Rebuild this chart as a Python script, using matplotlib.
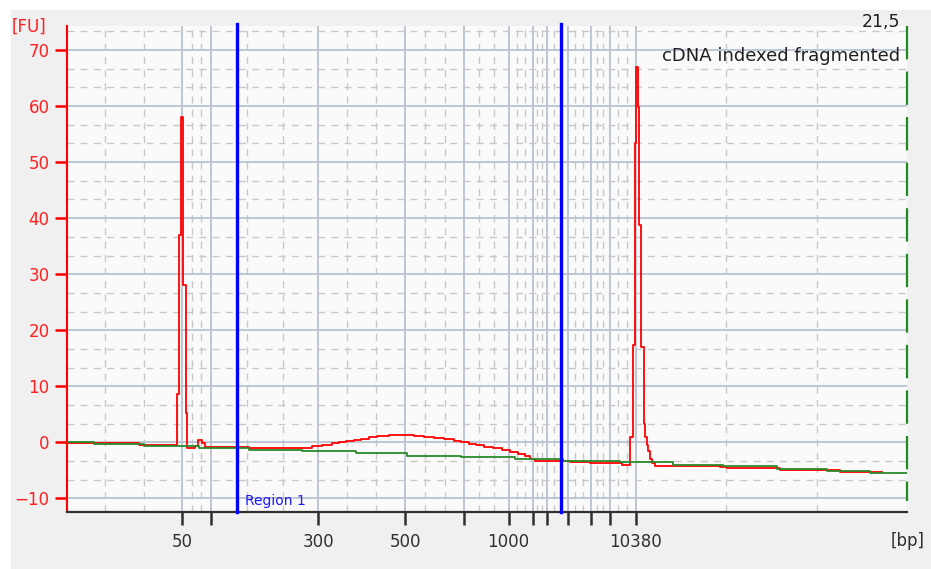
import numpy as np
import matplotlib
matplotlib.use("Agg")
import matplotlib.pyplot as plt
from matplotlib.patches import Rectangle

# migration time [s] and fluorescence [FU] of the sample trace
red_t = [40.0, 44.2, 47.2, 51.0, 51.2, 51.4, 51.6, 51.9, 52.0, 52.8, 53.1, 53.5,
         53.8, 56.2, 58.2, 63.2, 64.5, 65.5, 66.5, 67.2, 67.9, 68.7, 69.4, 70.2,
         71.0, 72.2, 73.7, 74.7, 75.7, 76.7, 77.7, 78.7, 79.4, 80.2, 80.9, 81.7,
         82.5, 83.4, 84.2, 85.0, 85.7, 86.2, 86.7, 88.7, 90.2, 92.2, 95.4, 96.25,
         96.53, 96.7, 96.87, 97.03, 97.13, 97.37, 97.6, 97.75, 97.9, 98.05, 98.2,
         98.4, 98.7, 102.2, 105.2, 105.9, 111.2, 117.2, 121.4]
red_fu = [-0.1, -0.2, -0.5, 8.7, 37.0, 58.0, 28.0, 5.2, -1.0, -0.6, 0.4, -0.1,
          -0.8, -0.9, -1.1, -1.0, -0.65, -0.4, -0.2, 0.0, 0.2, 0.4, 0.6, 0.9,
          1.1, 1.25, 1.3, 1.1, 1.0, 0.8, 0.6, 0.3, 0.0, -0.3, -0.5, -0.8,
          -1.1, -1.4, -1.7, -2.1, -2.5, -3.0, -3.3, -3.4, -3.6, -3.7, -4.1, 1.0,
          17.3, 53.4, 67.0, 59.9, 38.8, 17.0, 3.3, 1.0, -0.5, -1.5, -3.0,
          -3.7, -4.2, -4.3, -4.5, -4.6, -5.0, -5.3, -5.3]

# baseline
green_t = [40.0, 42.7, 47.7, 53.2, 58.2, 63.5, 68.9, 74.0, 79.4, 84.7, 89.5,
           95.2, 100.5, 105.5, 110.9, 115.9, 120.2, 123.9]
green_fu = [0.0, -0.3, -0.6, -1.0, -1.3, -1.6, -2.0, -2.4, -2.7, -3.0, -3.3,
            -3.6, -4.0, -4.3, -4.8, -5.1, -5.4, -5.4]

# ladder peak times and their sizes
ladder_t = [51.5, 54.4, 65.1, 73.8, 79.7, 84.1, 86.5, 87.9, 90.0, 92.3, 94.2, 96.8]
ladder_lbl = ['50', '', '300', '500', '', '1000', '', '', '', '', '', '10380']

region_t = [57.0, 89.3]
t_min, t_max = 40.0, 123.9
fu_min, fu_max = -12.5, 74.3

fig = plt.figure(figsize=(9.31, 5.69), dpi=100, facecolor='white')
fig.patches.append(Rectangle((11/931, 0), 1, (569-10)/569, transform=fig.transFigure,
                             facecolor='#f0f0f0', edgecolor='none', zorder=-10))
ax = fig.add_axes([67/931, (569-512.3)/569, (907-67)/931, (512.3-26)/569])
ax.set_facecolor('#fafafa')
ax.set_xlim(t_min, t_max)
ax.set_ylim(fu_min, fu_max)

# grid: solid at ladder / every 10 FU, dashed at thirds in between
grid_major = '#b9c2d0'
grid_minor = '#c8c8c8'
bounds = [t_min] + ladder_t + [t_max]
for a, b in zip(bounds[:-1], bounds[1:]):
    for f in (1/3, 2/3):
        ax.axvline(a + (b - a)*f, color=grid_minor, lw=1.0, dashes=(5, 4.5), zorder=1)
for t in ladder_t:
    ax.axvline(t, color=grid_major, lw=1.3, zorder=1)
for v in np.arange(-10, 71, 10):
    ax.axhline(v, color=grid_major, lw=1.3, zorder=1)
    for f in (10/3, 20/3):
        if v + f < fu_max:
            ax.axhline(v + f, color=grid_minor, lw=1.0, dashes=(5, 4.5), zorder=1)

ax.plot(red_t, red_fu, color='#ff0000', lw=1.3, drawstyle='steps-post', zorder=3)
ax.plot(green_t, green_fu, color='#2a8a2a', lw=1.3, drawstyle='steps-post', zorder=4)

for t in region_t:
    ax.axvline(t, color='#0000ff', lw=2.4, zorder=5, ymax=1.005, clip_on=False)
ax.text(region_t[0] + 0.8, -10.5, 'Region 1', color='#1a1aff', fontsize=10,
        va='center', ha='left', zorder=6)

# right-hand axis marker
ax.plot([t_max, t_max], [fu_max, -10.5], color='#1f8a1f', lw=1.6,
        dashes=(15, 5.5), clip_on=False, zorder=6)

for s in ['top', 'right']:
    ax.spines[s].set_visible(False)
ax.spines['left'].set_color('#ff0000')
ax.spines['left'].set_linewidth(1.5)
ax.spines['bottom'].set_color('#303030')
ax.spines['bottom'].set_linewidth(1.6)

ax.set_yticks(np.arange(-10, 71, 10))
ax.tick_params(axis='y', colors='#ff0000', labelcolor='#ff2020', length=8.5,
               width=1.8, labelsize=12, pad=4)
ax.set_xticks(ladder_t)
ax.set_xticklabels(ladder_lbl)
ax.tick_params(axis='x', colors='#303030', labelcolor='#303030', length=9,
               width=1.8, labelsize=12, pad=6)

fig.text(12/931, 1 - 27/569, '[FU]', color='#ff2020', fontsize=12, va='center', ha='left')
fig.text(925/931, 1 - 541/569, '[bp]', color='#303030', fontsize=12, va='center', ha='right')
fig.text(900/931, 1 - 22/569, '21,5', color='#202020', fontsize=12.5, va='center', ha='right')
fig.text(900/931, 1 - 56/569, 'cDNA indexed fragmented', color='#202020', fontsize=13,
         va='center', ha='right')

fig.savefig('out.png', dpi=100, facecolor=fig.get_facecolor())
